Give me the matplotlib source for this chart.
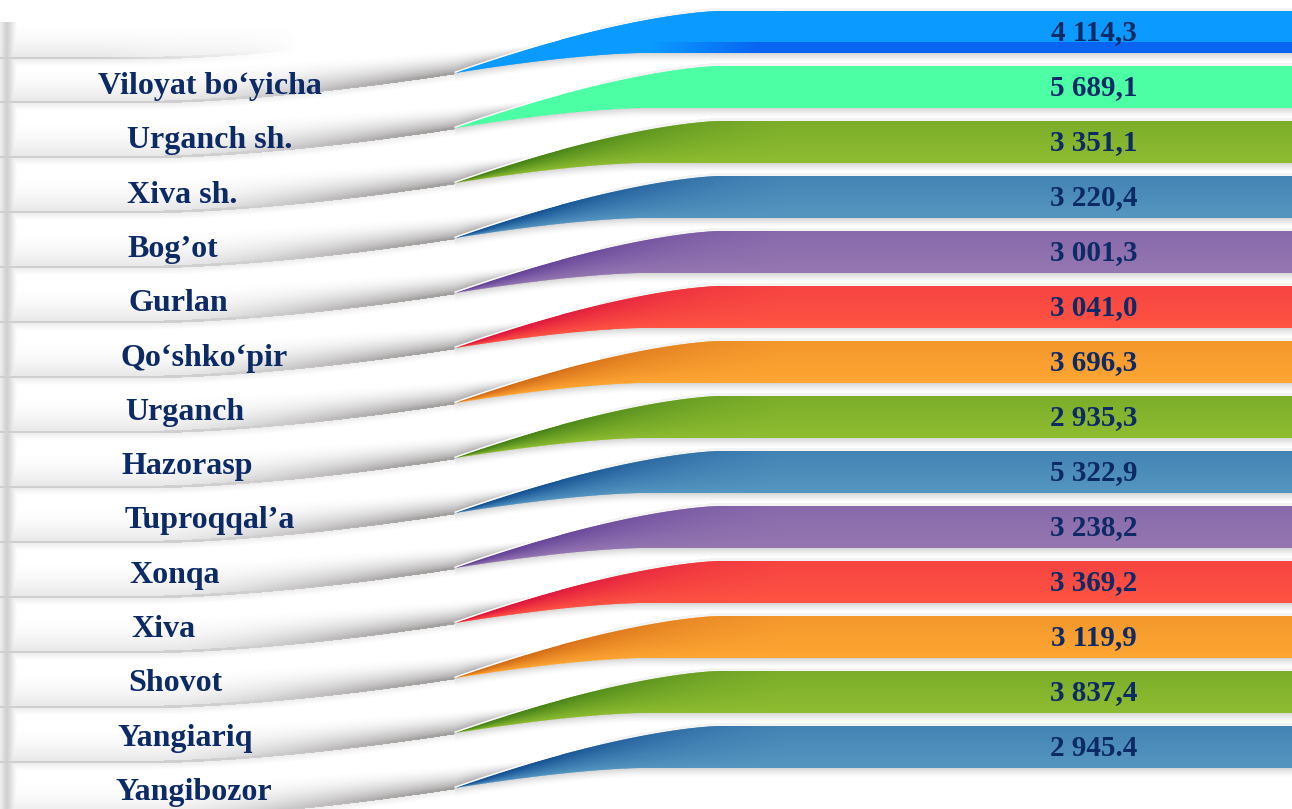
#!/usr/bin/env python3

import numpy as np
import matplotlib
matplotlib.use("Agg")
import matplotlib.pyplot as plt
from matplotlib.patches import Polygon


labels = ["Viloyat bo‘yicha", "Urganch sh.", "Xiva sh.", "Bog’ot", "Gurlan",
          "Qo‘shko‘pir", "Urganch", "Hazorasp", "Tuproqqal’a", "Xonqa",
          "Xiva", "Shovot", "Yangiariq", "Yangibozor"]
values = [4114.3, 5689.1, 3351.1, 3220.4, 3001.3, 3041.0, 3696.3,
          2935.3, 5322.9, 3238.2, 3369.2, 3119.9, 3837.4, 2945.4]
# the source writes the last number with a point instead of a comma
decimal_marks = [","] * 13 + ["."]

# (flat colour, colour in the shaded bend) for each ribbon
ribbon_colors = [
    ("#0b9bff", "#0b9bff"),
    ("#4dffa5", "#4dffa5"),
    ("#8fbd31", "#4a861a"),
    ("#5596c1", "#185596"),
    ("#9577b2", "#68479b"),
    ("#ff5443", "#e01a3e"),
    ("#ffa633", "#d6701a"),
    ("#8fbd31", "#4a861a"),
    ("#5596c1", "#185596"),
    ("#9577b2", "#68479b"),
    ("#ff5443", "#e01a3e"),
    ("#ffa633", "#d6701a"),
    ("#8fbd31", "#4a861a"),
    ("#5596c1", "#185596"),
]
label_x = [98, 127, 127, 127, 129, 121, 125, 121, 125, 129, 131, 128, 117, 115]

W, H = 1292, 809
TIP_X = 455
PITCH = 55
TOP0 = 11
NAVY = "#0c2a66"
FONT = "Liberation Serif"


def smooth(t):
    t = np.clip(t, 0, 1)
    return t * t * (3 - 2 * t)


def ribbon_top(x, T):
    t = np.clip((x - TIP_X) / (720 - TIP_X), 0, 1)
    return T + 62 * (1 - t) ** 1.5


def ribbon_bottom(x, T):
    t = np.clip((x - TIP_X) / (640 - TIP_X), 0, 1)
    return T + 42 + 20 * (1 - t) ** 1.5


def fold_line(x, T):
    # white ribbon crease: flat on the left, bending up into the tip
    t = np.clip((x - 150) / (TIP_X - 150), 0, 1)
    return T + 91 - 29 * t ** 1.6


def hex_rgb(c):
    c = c.lstrip("#")
    return np.array([int(c[k:k + 2], 16) / 255 for k in (0, 2, 4)])


def shading_layer(tops):
    X, Y = np.meshgrid(np.arange(W) + 0.5, np.arange(H) + 0.5)
    a = np.zeros((H, W))
    for T, partial in tops:
        fold = fold_line(X, T)
        lower = np.where(X <= TIP_X, fold, ribbon_top(X, T))
        upper = T + 54 - 21 * np.clip((X - 150) / 397, 0, 1) ** 1.3
        u = (lower - Y) / np.maximum(lower - upper, 1)
        s = 0.16 + 0.46 * smooth((X - 150) / 300)
        s = s * np.clip((565 - X) / 90, 0, 1)
        fade = np.clip((300 - X) / 200, 0, 1) if partial else 1.0
        inside = (u >= 0) & (u <= 1)
        a = np.maximum(a, np.where(inside, s * (1 - u) ** 1.8, 0) * fade)

        # crease line, which is also the divider between the label rows
        d = Y - fold
        left = X < TIP_X
        line_a = 0.32 + 0.3 * smooth((X - 250) / 200)
        a = np.maximum(a, np.where(left & (np.abs(d) < 1.3), line_a, 0) * fade)
        a = np.maximum(a, np.where(left & (d > 0) & (d < 8), 0.14 * (1 - d / 8), 0) * fade)

        if not partial:
            # soft shadow under the coloured part
            db = Y - ribbon_bottom(X, T)
            right = X >= TIP_X
            a = np.maximum(a, np.where(right & (db >= 0) & (db < 10),
                                       0.28 * (1 - db / 10) ** 1.5, 0))
            dt = ribbon_top(X, T) - Y
            a = np.maximum(a, np.where((X > 600) & (dt >= 0) & (dt < 3), 0.08, 0))

    # left ends of the ribbons
    edge = 0.32 * np.clip(1 - np.abs(X - 7) / 10, 0, 1) * (Y > 22)
    a = np.maximum(a, edge)

    img = np.zeros((H, W, 4))
    img[..., 0] = 0.42
    img[..., 1] = 0.40
    img[..., 2] = 0.40
    img[..., 3] = np.clip(a, 0, 1)
    return img


def ribbon_image(T, base, dark, with_strip):
    xs = np.arange(TIP_X, W) + 0.5
    ys = np.arange(T, T + 63) + 0.5
    X, Y = np.meshgrid(xs, ys)
    top = ribbon_top(X, T)
    bot = ribbon_bottom(X, T)
    ty = np.clip((Y - top) / np.maximum(bot - top, 1), 0, 1)
    tx = np.clip((X - TIP_X) / 330.0, 0, 1)
    k = 1.15 * (1 - tx) ** 1.2 * (1 - ty) ** 0.8 + 0.28 * (1 - ty)
    k = np.clip(k, 0, 1)[..., None]
    rgb = hex_rgb(base) * (1 - k) + hex_rgb(dark) * k
    if with_strip:
        m = ((Y > T + 31) * np.clip((X - 650) / 110, 0, 1))[..., None]
        rgb = rgb * (1 - m) + hex_rgb("#0864f2") * m
    return rgb


def main():
    fig = plt.figure(figsize=(W / 100, H / 100), dpi=100)
    ax = fig.add_axes([0, 0, 1, 1])
    ax.set_axis_off()

    tops = [TOP0 + PITCH * i for i in range(len(labels))]

    # grey folds and shadows of the white ribbons
    layer = shading_layer([(TOP0 - 44, True)] + [(T, False) for T in tops])
    ax.imshow(layer, extent=(0, W, H, 0), origin="upper", zorder=1,
              interpolation="bilinear")

    xs = np.linspace(TIP_X, W, 400)
    for i, T in enumerate(tops):
        base, dark = ribbon_colors[i]
        pts = np.vstack([np.column_stack([xs, ribbon_top(xs, T)]),
                         np.column_stack([xs[::-1], ribbon_bottom(xs[::-1], T)])])
        patch = Polygon(pts, closed=True, facecolor=base, edgecolor="none", zorder=2)
        ax.add_patch(patch)
        im = ax.imshow(ribbon_image(T, base, dark, i == 0),
                       extent=(TIP_X, W, T + 63, T), origin="upper", zorder=2,
                       interpolation="bilinear")
        im.set_clip_path(patch)

        hx = np.linspace(TIP_X, 560, 60)
        ax.plot(hx, ribbon_top(hx, T) - 0.8, color="white", lw=1.0, zorder=3)

        # district name on the white part
        ax.text(label_x[i], T + 83 - 0.7 * i, labels[i], fontsize=23,
                fontweight="bold", family=FONT, color=NAVY, va="baseline",
                ha="left", zorder=4)

        # value on the coloured part
        txt = f"{values[i]:,.1f}".replace(",", " ").replace(".", decimal_marks[i])
        ax.text(1094, T + 29.5, txt, fontsize=21, fontweight="bold", family=FONT,
                color=NAVY, va="baseline", ha="center", zorder=4)

    ax.set_xlim(0, W)
    ax.set_ylim(H, 0)
    fig.savefig("out.png", dpi=100, facecolor="white")
    plt.close(fig)


if __name__ == "__main__":
    main()
